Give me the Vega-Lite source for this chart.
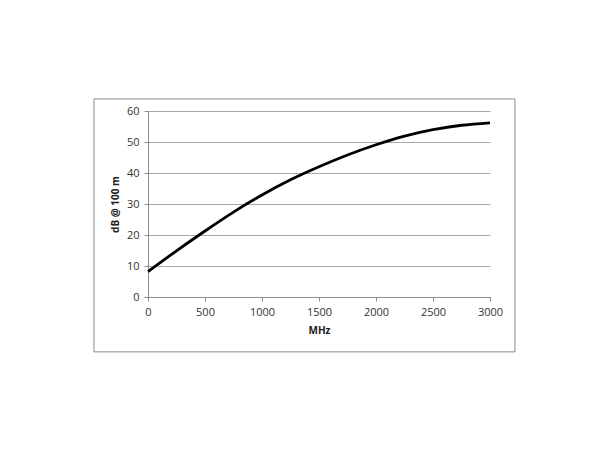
{
  "$schema": "https://vega.github.io/schema/vega-lite/v6.json",
  "width": 342,
  "height": 186,
  "autosize": {"type": "none"},
  "padding": {"left": 148, "top": 111, "right": 120, "bottom": 153},
  "background": "white",
  "config": {
    "view": {"stroke": null},
    "axis": {
      "labelFont": "Open Sans",
      "labelFontSize": 11,
      "labelColor": "#333333",
      "titleFont": "Open Sans",
      "titleFontSize": 10,
      "titleFontWeight": "bold",
      "titleColor": "#202020",
      "domainColor": "#8c8c8c",
      "tickColor": "#8c8c8c",
      "tickSize": 4,
      "gridColor": "#a8a8a8",
      "gridWidth": 1,
      "labelFlush": false,
      "format": "d"
    }
  },
  "layer": [
    {
      "data": {"values": [{}]},
      "mark": {"type": "rect", "fill": null, "stroke": "#8c8c8c", "strokeWidth": 1, "clip": false},
      "encoding": {
        "x": {
          "datum": -474, "type": "quantitative",
          "scale": {"domain": [0, 3000], "nice": false},
          "title": "MHz",
          "axis": {"values": [0, 500, 1000, 1500, 2000, 2500, 3000], "grid": false, "labelPadding": 5, "titlePadding": 8, "labelOverlap": false, "format": "d", "labelFlush": false}
        },
        "x2": {"datum": 3219},
        "y": {
          "datum": 63.9, "type": "quantitative",
          "scale": {"domain": [0, 60], "nice": false},
          "title": "dB @ 100 m",
          "axis": {"values": [0, 10, 20, 30, 40, 50, 60], "grid": true, "labelPadding": 5, "titlePadding": 6, "labelOverlap": false, "format": "d", "labelFlush": false}
        },
        "y2": {"datum": -17.7}
      }
    },
    {
      "data": {
        "values": [
          {"MHz": 0, "dB": 8.2},
          {"MHz": 250, "dB": 14.9},
          {"MHz": 500, "dB": 21.3},
          {"MHz": 750, "dB": 27.4},
          {"MHz": 1000, "dB": 32.9},
          {"MHz": 1250, "dB": 37.8},
          {"MHz": 1500, "dB": 42.0},
          {"MHz": 1750, "dB": 45.8},
          {"MHz": 2000, "dB": 49.1},
          {"MHz": 2250, "dB": 51.9},
          {"MHz": 2500, "dB": 54.0},
          {"MHz": 2750, "dB": 55.4},
          {"MHz": 3000, "dB": 56.2}
        ]
      },
      "mark": {"type": "line", "color": "black", "strokeWidth": 2.8, "interpolate": "natural"},
      "encoding": {
        "x": {
          "field": "MHz", "type": "quantitative",
          "scale": {"domain": [0, 3000], "nice": false},
          "title": "MHz",
          "axis": {"values": [0, 500, 1000, 1500, 2000, 2500, 3000], "grid": false, "labelPadding": 5, "titlePadding": 8, "labelOverlap": false, "format": "d", "labelFlush": false}
        },
        "y": {
          "field": "dB", "type": "quantitative",
          "scale": {"domain": [0, 60], "nice": false},
          "title": "dB @ 100 m",
          "axis": {"values": [0, 10, 20, 30, 40, 50, 60], "grid": true, "labelPadding": 5, "titlePadding": 6, "labelOverlap": false, "format": "d", "labelFlush": false}
        }
      }
    }
  ]
}
